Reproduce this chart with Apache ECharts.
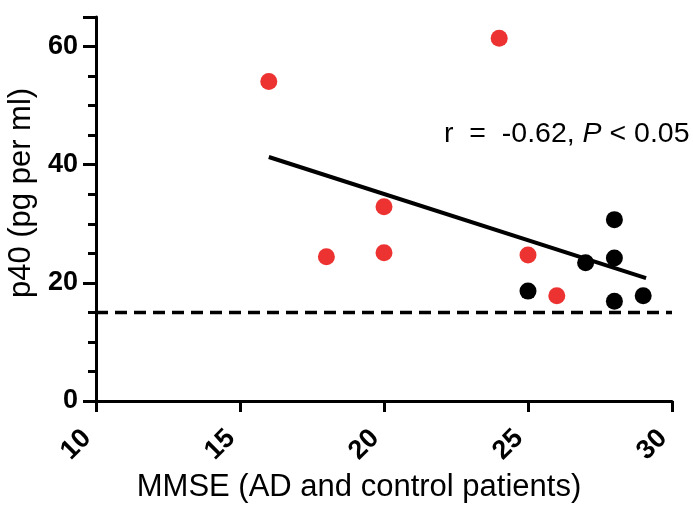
<!DOCTYPE html>
<html>
<head>
<meta charset="utf-8">
<script src="https://cdn.jsdelivr.net/npm/echarts@6/dist/echarts.min.js"></script>
<style>
html,body{margin:0;padding:0;background:#fff;}
#main{width:693px;height:505px;}
</style>
</head>
<body>
<div id="main"></div>
<script>
// AD patients (red) and controls (black): [MMSE, p40]
var adPoints = [[16, 54.1], [24, 61.4], [18, 24.4], [20, 32.9], [20, 25.1], [25, 24.7], [26, 17.8]];
var controlPoints = [[25, 18.6], [27, 23.4], [28, 30.7], [28, 24.2], [28, 16.9], [29, 17.8]];
var fitLine = [[16, 41.3], [29.1, 20.8]];
var cutoff = 15;
var xTicks = [10, 30, 5];
var yTicks = [0, 65, 5];

var font = 'Liberation Sans, Arial, sans-serif';
var myChart = echarts.init(document.getElementById('main'));

var option = {
    animation: false,
    grid: {left: 96, right: 21, top: 17, bottom: 104, outerBoundsMode: 'none', containLabel: false},
    xAxis: {
        type: 'value',
        min: xTicks[0], max: xTicks[1], interval: xTicks[2],
        name: 'MMSE (AD and control patients)',
        nameLocation: 'middle',
        nameGap: 62,
        nameTextStyle: {fontFamily: font, fontSize: 31, color: '#000', padding: [0, 50, 0, 0]},
        axisLine: {lineStyle: {color: '#000', width: 3}},
        axisTick: {length: 11, lineStyle: {color: '#000', width: 3}},
        axisLabel: {rotate: 45, margin: 24, padding: [0, 13, 0, 0], fontFamily: font, fontWeight: 'bold', fontSize: 27, color: '#000'},
        splitLine: {show: false}
    },
    yAxis: [{
        type: 'value',
        min: yTicks[0], max: yTicks[1], interval: yTicks[2],
        name: 'p40 (pg per ml)',
        nameLocation: 'middle',
        nameGap: 58,
        nameTextStyle: {fontFamily: font, fontSize: 31, color: '#000', padding: [0, 0, 0, 32]},
        axisLine: {lineStyle: {color: '#000', width: 3}},
        axisTick: {length: 8, lineStyle: {color: '#000', width: 3}},
        axisLabel: {
            margin: 18, fontFamily: font, fontWeight: 'bold', fontSize: 27, color: '#000',
            formatter: function (v) { return v % 20 === 0 ? String(v) : ''; }
        },
        splitLine: {show: false}
    }, {
        type: 'value',
        position: 'left',
        min: yTicks[0], max: yTicks[1], interval: 20,
        axisLine: {show: false},
        axisTick: {length: 13, lineStyle: {color: '#000', width: 3}},
        axisLabel: {show: false},
        splitLine: {show: false}
    }],
    series: [{
        type: 'line',
        data: [[xTicks[0], cutoff], [xTicks[1], cutoff]],
        symbol: 'none',
        lineStyle: {color: '#000', width: 3.5, type: [12, 7]},
        z: 1
    }, {
        type: 'line',
        data: fitLine,
        symbol: 'none',
        lineStyle: {color: '#000', width: 4},
        z: 2
    }, {
        type: 'scatter',
        data: adPoints,
        symbolSize: 17,
        itemStyle: {color: '#ec3332', opacity: 1},
        z: 3
    }, {
        type: 'scatter',
        data: controlPoints,
        symbolSize: 17,
        itemStyle: {color: '#000', opacity: 1},
        z: 3
    }],
    graphic: [{
        type: 'text',
        left: 444,
        top: 120,
        style: {
            text: '{n|r  =  -0.62, }{i|P}{n| < 0.05}',
            rich: {
                n: {fontFamily: font, fontSize: 28.5, fill: '#000'},
                i: {fontFamily: font, fontSize: 28.5, fontStyle: 'italic', fill: '#000'}
            }
        }
    }]
};
myChart.setOption(option);
</script>
</body>
</html>
